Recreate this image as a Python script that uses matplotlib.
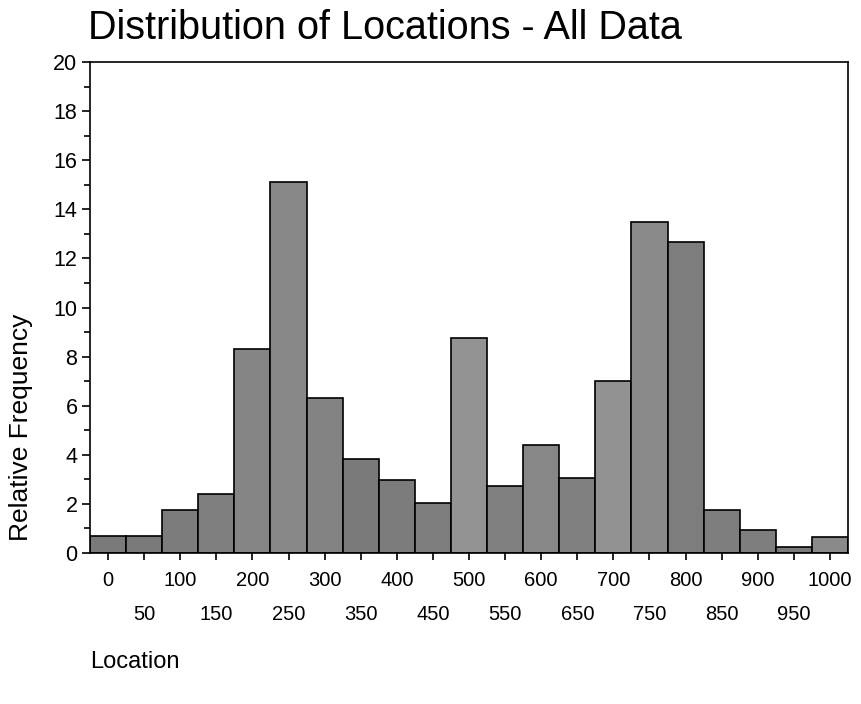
import matplotlib
matplotlib.use("Agg")
import matplotlib.pyplot as plt
import numpy as np

plt.rcParams['font.family'] = ['Liberation Sans', 'DejaVu Sans']

locations = [0, 50, 100, 150, 200, 250, 300, 350, 400, 450, 500,
             550, 600, 650, 700, 750, 800, 850, 900, 950, 1000]
rel_freq = [0.7, 0.7, 1.75, 2.4, 8.3, 15.1, 6.3, 3.83, 2.97, 2.04, 8.76,
            2.73, 4.4, 3.06, 7.0, 13.5, 12.67, 1.75, 0.94, 0.24, 0.67]
bar_colors = ['#7a7a7a', '#7a7a7a', '#7c7c7c', '#7f7f7f', '#858585', '#888888',
              '#838383', '#7a7a7a', '#7c7c7c', '#7e7e7e', '#939393', '#808080',
              '#878787', '#808080', '#929292', '#8a8a8a', '#7d7d7d', '#7e7e7e',
              '#7e7e7e', '#7a7a7a', '#8a8a8a']
yticks = [0, 2, 4, 6, 8, 10, 12, 14, 16, 18, 20]

fig = plt.figure(figsize=(8.61, 7.04), dpi=100)
ax = fig.add_axes([90/861, 1 - 553/704, (848-90)/861, (553-62)/704])

ax.bar(locations, rel_freq, width=50, color=bar_colors, edgecolor='black', linewidth=1.2)

ax.set_xlim(-25, 1025)
ax.set_ylim(0, 20)
ax.set_yticks(yticks)
ax.set_yticks(np.arange(1, 20, 2), minor=True)
ax.set_yticklabels([str(v) for v in yticks], fontsize=15.5)

ax.set_xticks(locations)
xlabels = [str(v) if i % 2 == 0 else '\n' + str(v) for i, v in enumerate(locations)]
ax.set_xticklabels(xlabels, fontsize=14.5, linespacing=2.0)

ax.tick_params(axis='y', which='major', direction='out', length=6, width=1.2, pad=3)
ax.tick_params(axis='y', which='minor', direction='out', length=4, width=1.2)
ax.tick_params(axis='x', which='major', direction='out', length=5, width=1.2, pad=8)

for s in ax.spines.values():
    s.set_linewidth(1.2)

fig.text(21/861, 1 - 427/704, 'Relative Frequency', fontsize=19, rotation=90,
         ha='center', va='center')
fig.text(90/861, 1 - 662/704, 'Location', fontsize=17, ha='left', va='center')
fig.text(88/861, 1 - 28/704, 'Distribution of Locations - All Data', fontsize=28.5,
         ha='left', va='center')

fig.savefig('out.png', dpi=100)
